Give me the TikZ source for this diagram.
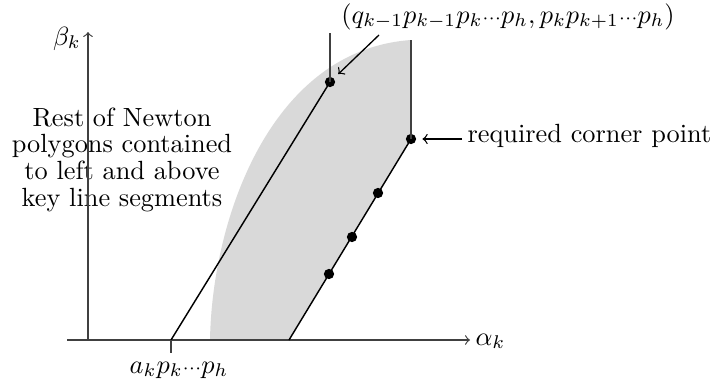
\documentclass[tikz,border=0pt]{standalone}
\begin{document}
\begin{tikzpicture}[x=0.38pt,y=-0.38pt,
  axis/.style={line width=0.45pt,black!75},
  keyline/.style={line width=0.55pt,black},
  vline/.style={line width=0.45pt,black!75},
  dot/.style={circle,fill=black,inner sep=0pt,minimum size=3.9pt},
  lbl/.style={inner sep=0pt},
  pointer/.style={line width=0.5pt,->,shorten >=2.2pt},
  >=to]
\useasboundingbox (0,0) rectangle (715,389);
% shaded region
\fill[gray!30] (210,340) -- (289,340) -- (411,139) -- (411,40)
  .. controls (270,50) and (212,220) .. (210,340) -- cycle;
% coordinates
\coordinate (xs) at (67,340);
\coordinate (xe) at (470,340);
\coordinate (ys) at (88,340);
\coordinate (ye) at (88,32);
\coordinate (A) at (171,340);
\coordinate (At) at (171,353);
\coordinate (T1) at (330,33);
\coordinate (B) at (289,340);
\coordinate (T2) at (411,40);
% dots
\node[dot] (d1) at (330,82) {};
\node[dot] (d2) at (411,139) {};
\node[dot] (d3) at (378,193) {};
\node[dot] (d4) at (352,237) {};
\node[dot] (d5) at (329,274) {};
% text block
\node[lbl,anchor=north,align=center,font=\fontsize{10pt}{10.15pt}\selectfont] (rest) at (122,107)
  {Rest of Newton\\polygons contained\\to left and above\\key line segments};
% axes
\draw[axis,->] (xs) -- (xe);
\draw[axis,->] (ys) -- (ye);
\node[lbl,anchor=base west] (alpha) at (475,345) {$\alpha_k$};
\node[lbl,anchor=base] (beta) at (67,45) {$\beta_k$};
% key lines
\draw[keyline] (A) -- (d1.center);
\draw[vline] (d1.center) -- (T1);
\draw[vline] (A) -- (At);
\draw[keyline] (B) -- (d2.center);
\draw[vline] (d2.center) -- (T2);
% labels
\node[lbl,anchor=base] (alab) at (179,373) {$a_kp_k{\scriptstyle\cdots}p_h$};
\node[lbl,anchor=base] (qlab) at (508,23) {$(q_{k-1}p_{k-1}p_k{\scriptstyle\cdots}p_h, p_kp_{k+1}{\scriptstyle\cdots}p_h)$};
\node[lbl,anchor=base west] (req) at (467,143) {required corner point};
\coordinate (qa) at (379,35);
\coordinate (ra) at (462,139);
\draw[pointer] (qa) -- (d1);
\draw[pointer] (ra) -- (d2);
\end{tikzpicture}
\end{document}
